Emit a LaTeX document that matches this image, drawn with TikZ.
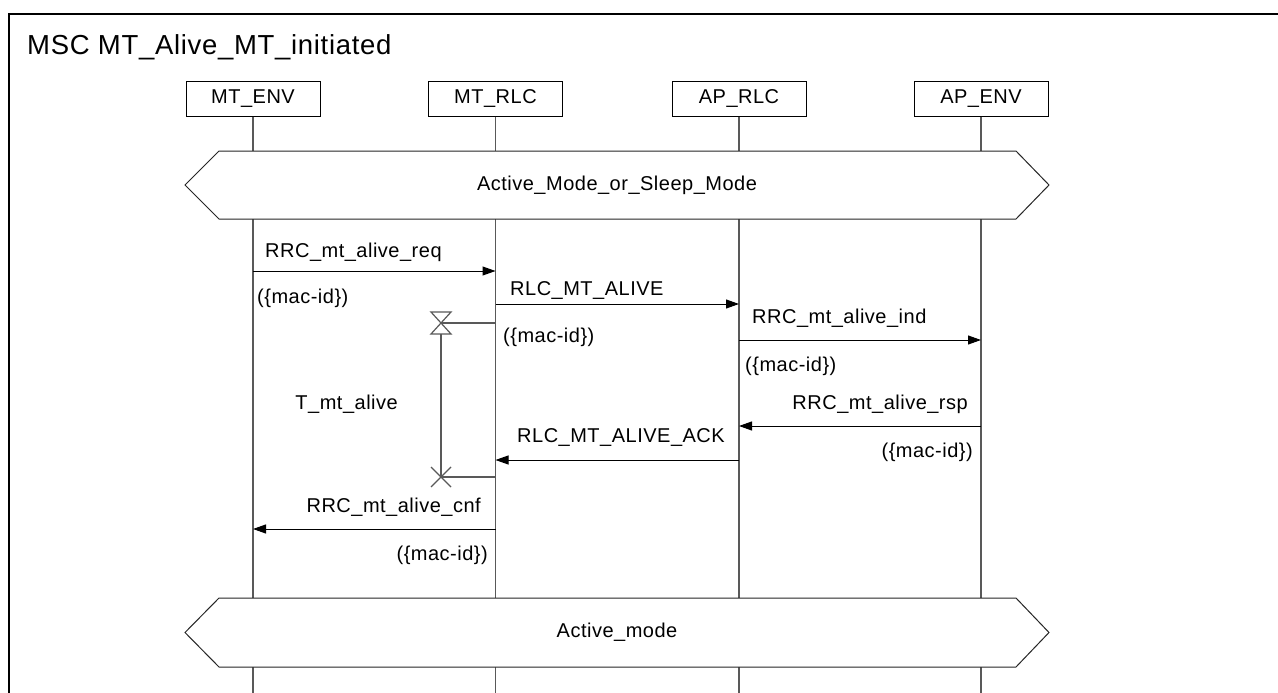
\documentclass[tikz,border=0pt]{standalone}
\usepackage{fontspec}
\setmainfont{Liberation Sans}
\newfontfamily\lblfont[LetterSpace=2.5]{Liberation Sans}
\usetikzlibrary{arrows.meta}
\begin{document}
\begin{tikzpicture}[x=1pt,y=-1pt,
 lbl/.style={font=\lblfont\fontsize{20}{24}\selectfont, inner sep=0pt},
 inst/.style={draw=black, line width=1pt, minimum width=134pt, minimum height=34pt, font=\lblfont\fontsize{20}{24}\selectfont, inner sep=0pt},
 life/.style={draw=black!65, line width=1.2pt},
 msg/.style={draw=black, line width=1pt, -{Triangle[length=13pt,width=9pt]}},
 cond/.style={draw=black!85, line width=1pt, fill=white},
 tim/.style={draw=black!65, line width=1.2pt}]
\useasboundingbox (0,0) rectangle (1278,693);
\fill[white] (0,0) rectangle (1278,693);
\draw[line width=1.2pt] (9,693) -- (9,14) -- (1278,14);
\node[lbl, font=\lblfont\fontsize{27.5}{32}\selectfont, anchor=west] (title) at (27,47) {MSC MT\_Alive\_MT\_initiated};
% instances
\node[inst] (A) at (253,99) {MT\_ENV};
\node[inst] (B) at (495.5,99) {MT\_RLC};
\node[inst] (C) at (739,99) {AP\_RLC};
\node[inst] (D) at (981,99) {AP\_ENV};
\foreach \n in {A,B,C,D} \draw[life] (\n.south) -- (\n.south |- 0,693);
% conditions
\path[cond] (185,185) -- (219,151) -- (1016,151) -- (1049,185) -- (1016,219) -- (219,219) -- cycle;
\node[lbl] (c1) at (617,185) {Active\_Mode\_or\_Sleep\_Mode};
\path[cond] (185,632.5) -- (219,598) -- (1016,598) -- (1049,632.5) -- (1016,667) -- (219,667) -- cycle;
\node[lbl] (c2) at (617,632.5) {Active\_mode};
% messages
\draw[msg] (A.south |- 0,271) -- (B.south |- 0,271);
\node[lbl, anchor=west] (m1) at (265,252) {RRC\_mt\_alive\_req};
\node[lbl, anchor=west] (p1) at (257,298) {(\{mac-id\})};
\draw[msg] (B.south |- 0,304) -- (C.south |- 0,304);
\node[lbl, anchor=west] (m2) at (510,291) {RLC\_MT\_ALIVE};
\node[lbl, anchor=west] (p2) at (503,337) {(\{mac-id\})};
\draw[msg] (C.south |- 0,340) -- (D.south |- 0,340);
\node[lbl, anchor=west] (m3) at (752,318) {RRC\_mt\_alive\_ind};
\node[lbl, anchor=west] (p3) at (745,366) {(\{mac-id\})};
\draw[msg] (D.south |- 0,426) -- (C.south |- 0,426);
\node[lbl, anchor=east] (m4) at (968,404) {RRC\_mt\_alive\_rsp};
\node[lbl, anchor=east] (p4) at (973,452) {(\{mac-id\})};
\draw[msg] (C.south |- 0,460) -- (B.south |- 0,460);
\node[lbl, anchor=west] (m5) at (517,438) {RLC\_MT\_ALIVE\_ACK};
\draw[msg] (B.south |- 0,529) -- (A.south |- 0,529);
\node[lbl, anchor=east] (m6) at (481,507) {RRC\_mt\_alive\_cnf};
\node[lbl, anchor=east] (p6) at (488,555) {(\{mac-id\})};
% timer
\coordinate (ts) at (441,323);
\coordinate (te) at (441,477);
\draw[tim] (ts) -- (B.south |- ts);
\draw[tim] (431,312) -- (451,312) -- (431,334) -- (451,334) -- cycle;
\draw[tim] (441,334) -- (te);
\draw[tim] (te) -- (B.south |- te);
\draw[tim] (431,467) -- (451,487) (431,487) -- (451,467);
\node[lbl, anchor=east] (tl) at (398,404) {T\_mt\_alive};
\end{tikzpicture}
\end{document}
